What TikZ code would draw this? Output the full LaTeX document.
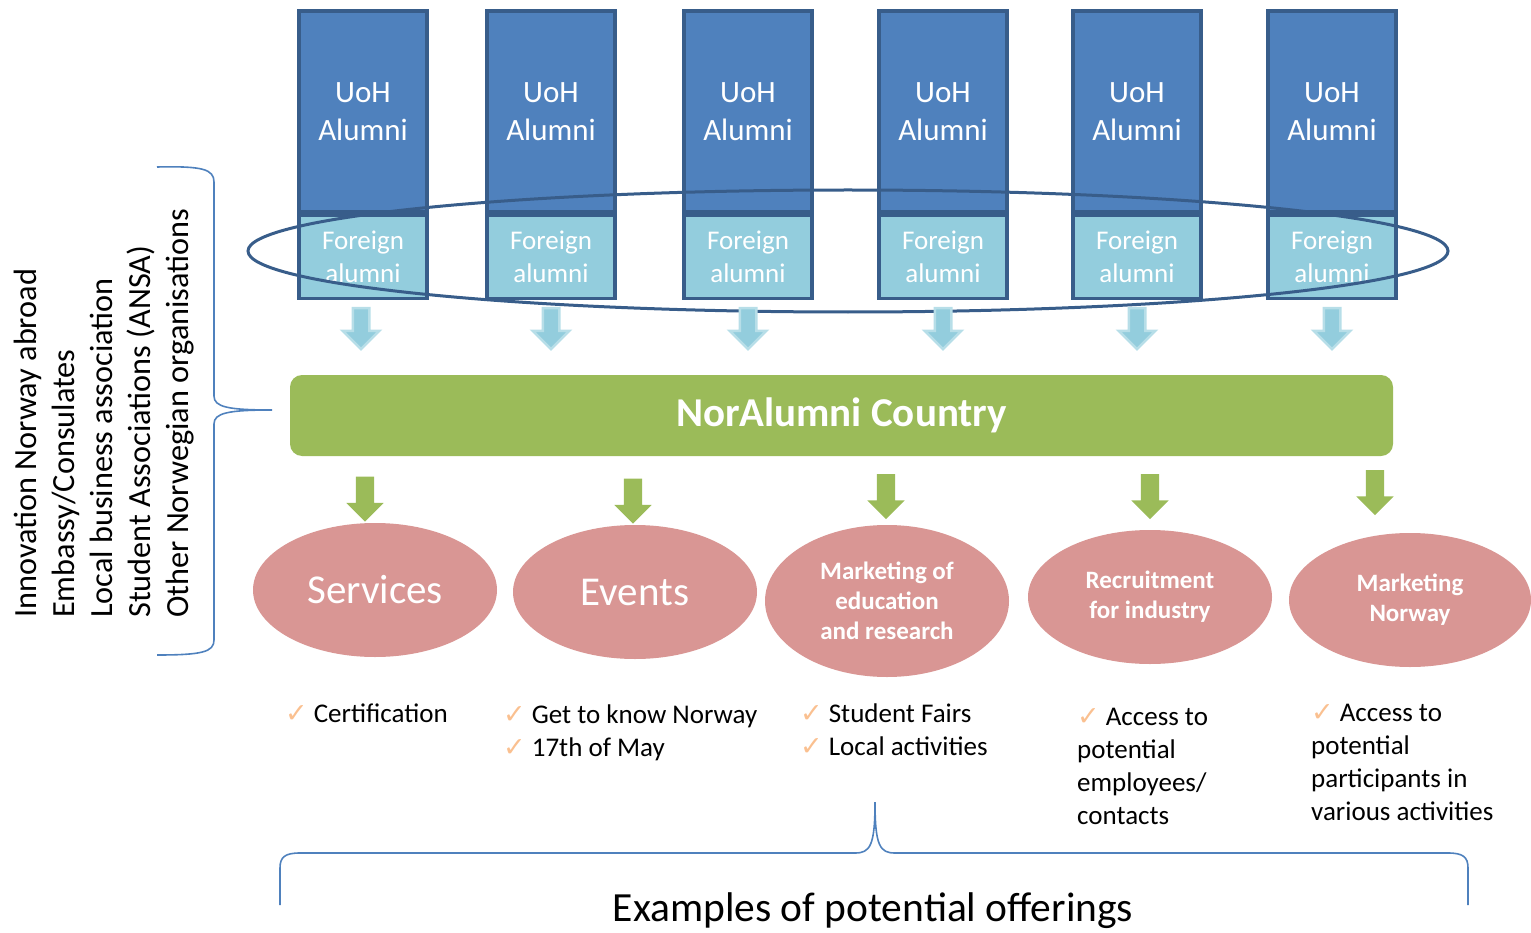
\documentclass[tikz,border=0pt]{standalone}
\usepackage{fontspec}
\setmainfont{Carlito}
\newfontfamily\symbolfont{DejaVu Sans}
\usetikzlibrary{positioning,shapes.geometric,shapes.arrows}

\definecolor{alumblue}{HTML}{4F81BD}
\definecolor{boxline}{HTML}{385D8A}
\definecolor{foreignblue}{HTML}{93CDDD}
\definecolor{arrowglow}{HTML}{B7DEE8}
\definecolor{countrygreen}{HTML}{9BBB59}
\definecolor{offerpink}{HTML}{D99694}
\definecolor{tickorange}{HTML}{FAC090}
\definecolor{bracelink}{HTML}{4F81BD}

\newcommand{\tick}{{\symbolfont\color{tickorange}\fontsize{27}{27}\selectfont ✓}\hspace{6pt}}

\tikzset{
  alumbox/.style={draw=boxline, line width=3.2pt, fill=alumblue, text=white, inner sep=0pt,
    minimum width=128pt, minimum height=201pt, align=center, font=\fontsize{31}{38}\selectfont},
  foreignbox/.style={alumbox, fill=foreignblue, minimum height=83pt, font=\fontsize{27}{33}\selectfont},
  ring/.style={ellipse, draw=boxline, line width=3pt, inner sep=0pt, minimum width=1200pt, minimum height=122pt},
  inarrow/.style={single arrow, rotate=-90, fill=foreignblue, draw=arrowglow, line width=2.5pt,
    inner xsep=0pt, inner ysep=7pt, minimum height=41pt, single arrow head extend=10pt, single arrow head indent=0pt},
  outarrow/.style={single arrow, rotate=-90, fill=countrygreen,
    inner xsep=0pt, inner ysep=9pt, minimum height=45pt, single arrow head extend=9.5pt, single arrow head indent=0pt},
  countrybar/.style={rounded corners=12pt, fill=countrygreen, text=white, inner sep=0pt,
    minimum width=1103pt, minimum height=81pt, font=\bfseries\fontsize{41}{44}\selectfont},
  offer/.style={ellipse, fill=offerpink, text=white, inner sep=0pt, minimum width=244pt, minimum height=134pt,
    align=center, font=\fontsize{41}{44}\selectfont},
  smalloffer/.style={offer, font=\bfseries\fontsize{25}{30}\selectfont},
  offerlist/.style={anchor=west, inner sep=0pt, align=left, font=\fontsize{27}{33}\selectfont},
  sidetext/.style={rotate=90, anchor=north west, inner sep=0pt, align=left, font=\fontsize{32.3}{38}\selectfont},
  bracket/.style={draw=bracelink, line width=1.6pt}
}

\begin{document}
\begin{tikzpicture}[x=1pt,y=-1pt]
	\useasboundingbox (0,0) rectangle (1531,933);

	%alumni columns
	\node[alumbox] (uoh1) at (363,111.5) {UoH\\Alumni};
	\node[alumbox] (uoh2) at (551,111.5) {UoH\\Alumni};
	\node[alumbox] (uoh3) at (748,111.5) {UoH\\Alumni};
	\node[alumbox] (uoh4) at (943,111.5) {UoH\\Alumni};
	\node[alumbox] (uoh5) at (1137,111.5) {UoH\\Alumni};
	\node[alumbox] (uoh6) at (1332,111.5) {UoH\\Alumni};

	\node[foreignbox, below=0pt of uoh1] (for1) {Foreign\\alumni};
	\node[foreignbox, below=0pt of uoh2] (for2) {Foreign\\alumni};
	\node[foreignbox, below=0pt of uoh3] (for3) {Foreign\\alumni};
	\node[foreignbox, below=0pt of uoh4] (for4) {Foreign\\alumni};
	\node[foreignbox, below=0pt of uoh5] (for5) {Foreign\\alumni};
	\node[foreignbox, below=0pt of uoh6] (for6) {Foreign\\alumni};

	%ring round the foreign alumni
	\node[ring] (ring) at (848,251) {};

	%arrows into the country
	\node[inarrow] (in1) at (361,324.5) {};
	\node[inarrow] (in2) at (551,324.5) {};
	\node[inarrow] (in3) at (748,324.5) {};
	\node[inarrow] (in4) at (943,324.5) {};
	\node[inarrow] (in5) at (1137,324.5) {};
	\node[inarrow] (in6) at (1332,324.5) {};

	%country bar
	\node[countrybar] (country) at (841.5,415.5) {NorAlumni Country};

	%arrows out of the country
	\node[outarrow] (out1) at (365,494.5) {};
	\node[outarrow] (out2) at (633,496.5) {};
	\node[outarrow] (out3) at (886,492) {};
	\node[outarrow] (out4) at (1150,492) {};
	\node[outarrow] (out5) at (1375,488) {};

	%offerings
	\node[offer] (services) at (375,590) {Services};
	\node[offer] (events) at (635,592) {Events};
	\node[smalloffer, minimum height=152pt] (education) at (887,601) {Marketing of\\education\\and research};
	\node[smalloffer] (recruit) at (1150,597) {Recruitment\\for industry};
	\node[smalloffer, minimum width=242pt] (norway) at (1410,600) {Marketing\\Norway};

	%examples
	\node[offerlist] (certlist) at (285,713) {\tick Certification};
	\node[offerlist] (eventlist) at (503,733) {\tick Get to know Norway\\\tick 17th of May};
	\node[offerlist] (marketlist) at (800,730) {\tick Student Fairs\\\tick Local activities};
	\node[offerlist] (recruitlist) at (1077,766) {\tick Access to\\potential\\employees/\\contacts};
	\node[offerlist] (norwaylist) at (1311,762) {\tick Access to\\potential\\participants in\\various activities};

	%partners
	\node[sidetext] (partners) at (14,618) {Innovation Norway abroad\\Embassy/Consulates\\Local business association\\Student Associations (ANSA)\\Other Norwegian organisations};
	\draw[bracket] (157,167) .. controls (202,166) and (214,169) .. (214,182) -- (214,396)
		.. controls (214,407) and (228,410) .. (272,410)
		.. controls (228,410) and (214,413) .. (214,424) -- (214,640)
		.. controls (214,652) and (202,655) .. (157,655);

	%offerings brace
	\draw[bracket] (280,905) -- (280,868) .. controls (280,857) and (285,853) .. (300,853) -- (855,853)
		.. controls (870,853) and (875,846) .. (875,802)
		.. controls (875,846) and (880,853) .. (895,853) -- (1448,853)
		.. controls (1463,853) and (1468,857) .. (1468,868) -- (1468,905);
	\node[font=\fontsize{41.5}{44}\selectfont] (offerings) at (873,911) {Examples of potential offerings};
\end{tikzpicture}
\end{document}
